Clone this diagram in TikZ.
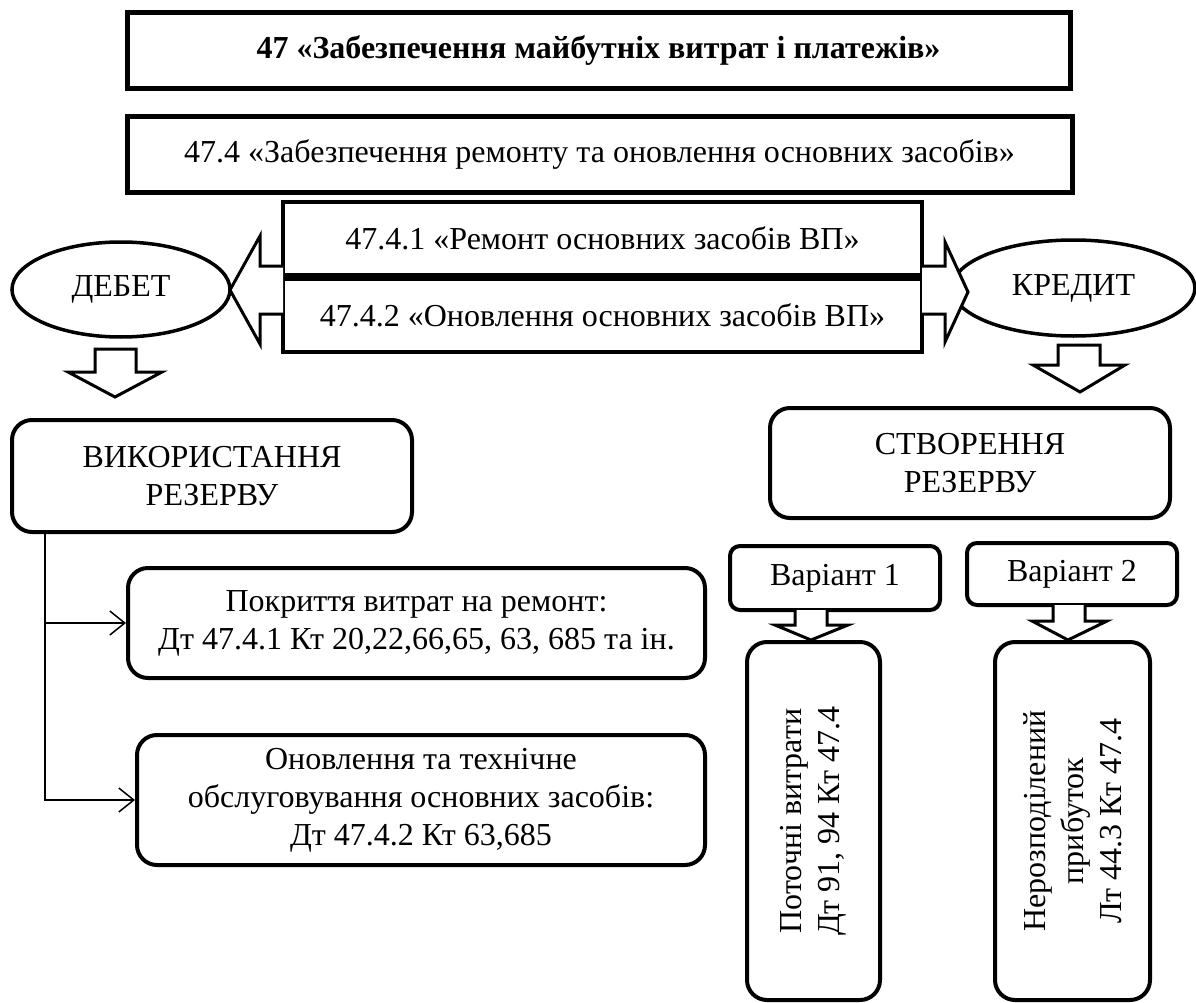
\documentclass[tikz,border=0pt]{standalone}
\usepackage{fontspec}
\setmainfont{Liberation Serif}
\usetikzlibrary{shapes.geometric,arrows.meta}
\begin{document}
\begin{tikzpicture}[x=1pt,y=-1pt,
  font=\fontsize{32}{38}\selectfont,
  sqbox/.style={draw,line width=5pt,align=center,inner sep=0pt},
  accbox/.style={draw,line width=4pt,align=center,inner sep=0pt,minimum width=639,minimum height=73},
  rbox/.style={draw,line width=4pt,rounded corners=20pt,align=center,inner sep=0pt},
  vbox/.style={draw,line width=4pt,rounded corners=10pt,align=center,inner sep=0pt,minimum width=210},
  side/.style={draw,ellipse,line width=3.5pt,inner sep=0pt},
  blockarr/.style={draw,line width=3pt,line join=miter,fill=white},
  conn/.style={line width=1.5pt,-{Straight Barb[length=15pt,width=24pt,line width=1.5pt]}}]
\fill[white] (0,0) rectangle (1196,1003);
\useasboundingbox (0,0) rectangle (1196,1003);
% accounts
\node[sqbox,minimum width=943,minimum height=76,font=\fontsize{32}{38}\selectfont\bfseries] (acc) at (598.5,51) {47 «Забезпечення майбутніх витрат і платежів»};
\node[sqbox,minimum width=945,minimum height=76] (sub) at (599.5,155) {47.4 «Забезпечення ремонту та оновлення основних засобів»};
\node[accbox] (rem) at (602.5,238.5) {47.4.1 «Ремонт основних засобів ВП»};
\node[accbox] (onv) at (602.5,315.5) {47.4.2 «Оновлення основних засобів ВП»};
\node[side,minimum width=218,minimum height=95] (debet) at (121,289.5) {ДЕБЕТ};
\node[side,minimum width=243,minimum height=96] (kredit) at (1073.5,288) {КРЕДИТ};
% block arrows
\draw[blockarr] (283,266) -- (260,266) -- (260,236) -- (230,290) -- (260,344) -- (260,314) -- (283,314);
\draw[blockarr] (922,266) -- (945,266) -- (945,242) -- (968,292) -- (945,342) -- (945,314) -- (922,314);
\draw[blockarr] (95,349) -- (95,372) -- (68,372) -- (115,397) -- (162,372) -- (136,372) -- (136,349) -- cycle;
\draw[blockarr] (1058,345) -- (1058,365) -- (1033,365) -- (1080,392) -- (1125,365) -- (1100,365) -- (1100,345) -- cycle;
% debit side
\node[rbox,minimum width=400,minimum height=112] (vyk) at (212,476) {ВИКОРИСТАННЯ\\РЕЗЕРВУ};
\node[rbox,minimum width=577,minimum height=110] (pokr) at (416.5,623) {Покриття витрат на ремонт:\\Дт 47.4.1 Кт 20,22,66,65, 63, 685 та ін.};
\node[rbox,minimum width=568,minimum height=130] (onovl) at (421,800) {Оновлення та технічне\\обслуговування основних засобів:\\Дт 47.4.2 Кт 63,685};
\coordinate (trunk) at (45,532);
\draw[conn] (trunk) |- (onovl.west);
\draw[conn] (trunk |- pokr.west) -- (pokr.west);
% credit side
\node[rbox,minimum width=400,minimum height=110] (stv) at (970,463) {СТВОРЕННЯ\\РЕЗЕРВУ};
\node[vbox,minimum height=64] (var1) at (835,578) {Варіант 1};
\node[vbox,minimum height=62] (var2) at (1072,574) {Варіант 2};
\draw[blockarr] (795,610) -- (795,625) -- (775,625) -- (811,640) -- (848,625) -- (827,625) -- (827,610);
\draw[blockarr] (1053,605) -- (1053,621) -- (1032,621) -- (1068,640) -- (1107,621) -- (1085,621) -- (1085,605);
\node[rbox,rotate=90,minimum width=358,minimum height=133] (potoch) at (813.5,821) {Поточні витрати\\Дт 91, 94 Кт 47.4};
\node[rbox,rotate=90,minimum width=358,minimum height=155] (nerozp) at (1072.5,821) {Нерозподілений\\прибуток\\Лт 44.3 Кт 47.4};
\end{tikzpicture}
\end{document}
